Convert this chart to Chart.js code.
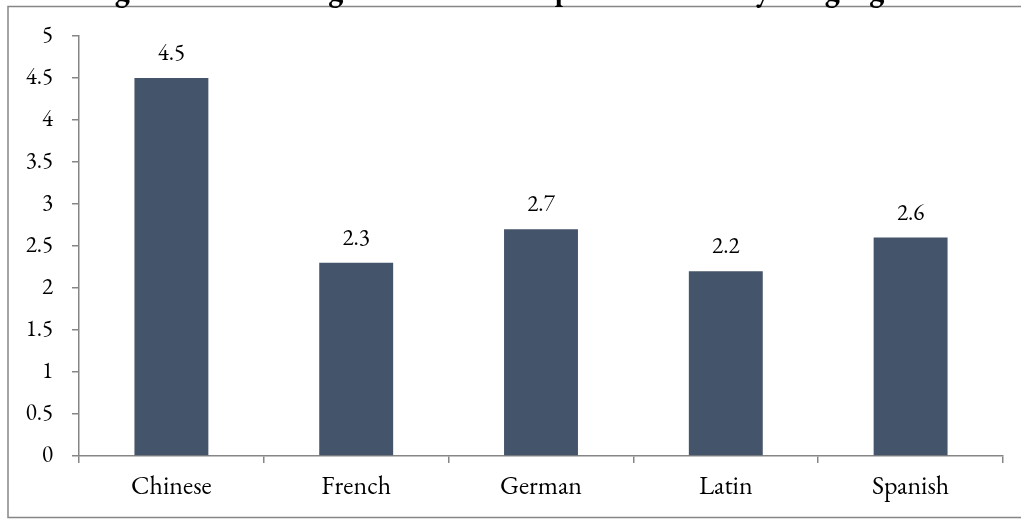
<!DOCTYPE html>
<html>
<head>
<meta charset="utf-8">
<script src="https://cdn.jsdelivr.net/npm/chart.js@4/dist/chart.umd.min.js"></script>
<style>
  html, body { margin: 0; padding: 0; background: #ffffff; overflow: hidden; }
  #wrap { position: relative; width: 1021px; height: 519px; }
</style>
</head>
<body>
<div id="wrap"><canvas id="chart" width="1021" height="519"></canvas></div>
<script>
// Average score per language
const languages = ['Chinese', 'French', 'German', 'Latin', 'Spanish'];
const averages = [4.5, 2.3, 2.7, 2.2, 2.6];
const yTicks = [0, 0.5, 1, 1.5, 2, 2.5, 3, 3.5, 4, 4.5, 5];
const titleText = 'Average Student Rating of Classroom Experience Score by Language';

const SERIF = 'Garamond, "EB Garamond", "Liberation Serif", "DejaVu Serif", serif';
const AXIS_GREY = '#868686';

// Outer frame plus a title that sits mostly above the visible edge
const framePlugin = {
  id: 'frame',
  beforeDraw(chart) {
    const ctx = chart.ctx;
    ctx.save();
    ctx.fillStyle = '#ffffff';
    ctx.fillRect(0, 0, chart.width, chart.height);
    ctx.strokeStyle = AXIS_GREY;
    ctx.lineWidth = 1.5;
    ctx.strokeRect(8, 6.5, chart.width + 20, 511);
    ctx.fillStyle = '#000000';
    ctx.font = 'bold 30px ' + SERIF;
    ctx.textAlign = 'left';
    ctx.textBaseline = 'alphabetic';
    ctx.fillText(titleText, 44, -1);
    ctx.restore();
  }
};

// Value written above each bar
const valueLabels = {
  id: 'valueLabels',
  afterDatasetsDraw(chart) {
    const ctx = chart.ctx;
    const meta = chart.getDatasetMeta(0);
    ctx.save();
    ctx.fillStyle = '#000000';
    ctx.font = '23px ' + SERIF;
    ctx.textAlign = 'center';
    ctx.textBaseline = 'alphabetic';
    meta.data.forEach((bar, i) => {
      ctx.fillText(String(averages[i]), bar.x, bar.y - 18);
    });
    ctx.restore();
  }
};

new Chart(document.getElementById('chart'), {
  type: 'bar',
  data: {
    labels: languages,
    datasets: [{
      data: averages,
      backgroundColor: '#44546A',
      borderWidth: 0,
      categoryPercentage: 1,
      barPercentage: 0.4
    }]
  },
  options: {
    responsive: false,
    animation: false,
    devicePixelRatio: 1,
    layout: { padding: { left: 0, top: 36, right: 18, bottom: 0 } },
    plugins: {
      legend: { display: false },
      title: { display: false },
      tooltip: { enabled: false }
    },
    scales: {
      x: {
        offset: true,
        afterFit(scale) { scale.height = 63; },
        grid: {
          offset: true,
          drawOnChartArea: false,
          drawTicks: true,
          tickLength: 7,
          color: AXIS_GREY,
          lineWidth: 1.5
        },
        border: { display: true, color: AXIS_GREY, width: 1.5 },
        ticks: {
          color: '#000000',
          padding: 8,
          maxRotation: 0,
          font: { family: SERIF, size: 26 }
        }
      },
      y: {
        min: 0,
        max: 5,
        afterFit(scale) { scale.width = 79; },
        afterBuildTicks(scale) { scale.ticks = yTicks.map(v => ({ value: v })); },
        grid: {
          drawOnChartArea: false,
          drawTicks: true,
          tickLength: 7,
          color: AXIS_GREY,
          lineWidth: 1.5
        },
        border: { display: true, color: AXIS_GREY, width: 1.5 },
        ticks: {
          color: '#000000',
          padding: 19,
          font: { family: SERIF, size: 23 },
          callback: (v) => String(v)
        }
      }
    }
  },
  plugins: [framePlugin, valueLabels]
});
</script>
</body>
</html>
